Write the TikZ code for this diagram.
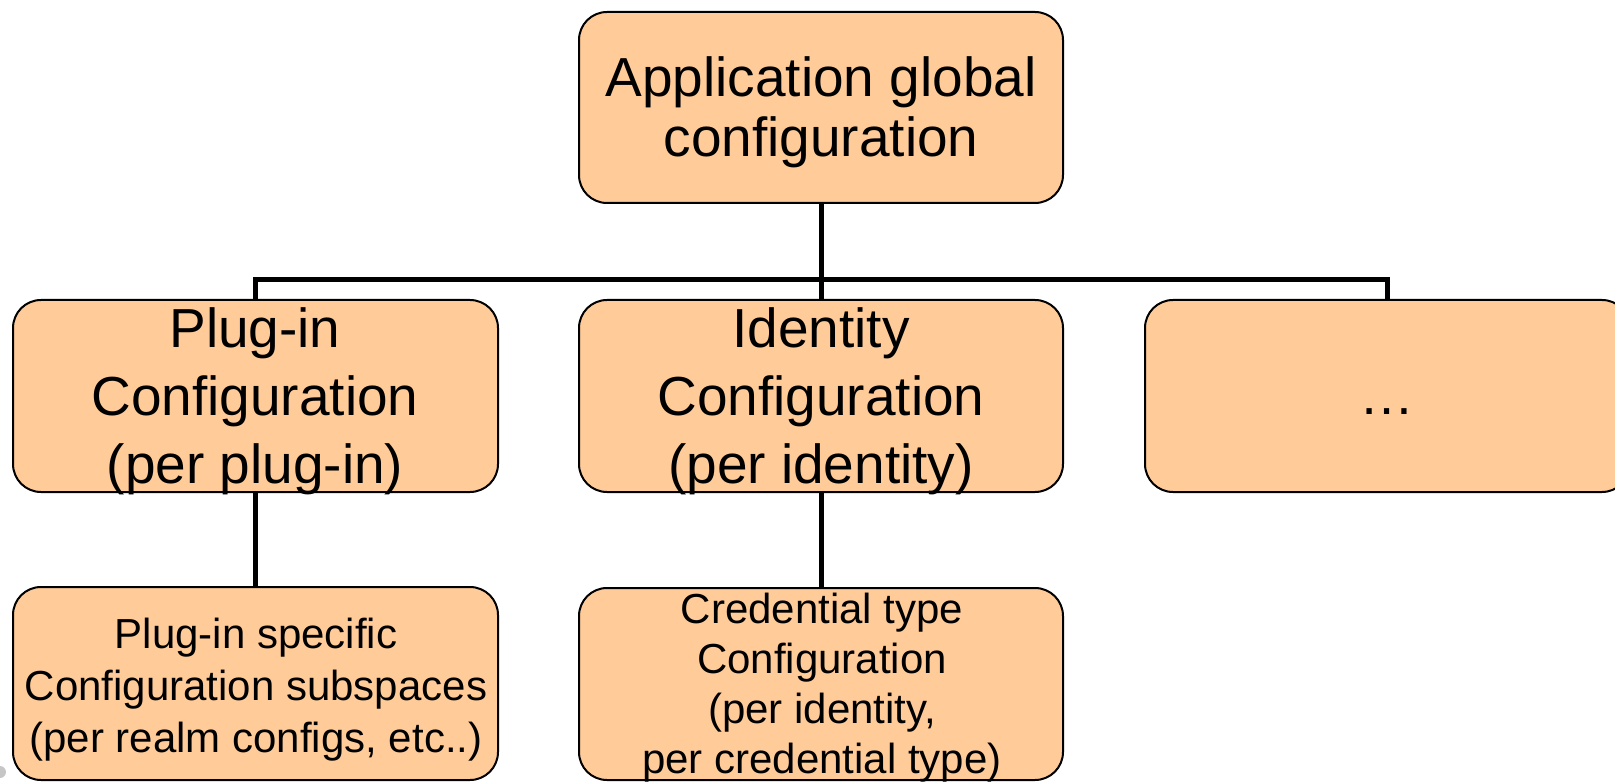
\documentclass[tikz,border=0pt]{standalone}
\usepackage{fontspec}
\setmainfont{Liberation Sans}
\pgfdeclarelayer{background}
\pgfsetlayers{background,main}
\definecolor{peach}{HTML}{FFCC99}
\tikzset{
  box/.style={draw=black, line width=2pt, fill=peach, rounded corners=28pt, inner sep=0pt, minimum width=485pt, minimum height=192pt},
  conn/.style={draw=black, line width=5pt},
  bigtxt/.style={anchor=base, align=center, inner sep=0pt, font=\fontsize{55}{68}\selectfont},
  toptxt/.style={anchor=base, align=center, inner sep=0pt, font=\fontsize{55}{60}\selectfont},
  smalltxt/.style={anchor=base, align=center, inner sep=0pt, font=\fontsize{42}{52}\selectfont},
  smalltxtb/.style={anchor=base, align=center, inner sep=0pt, font=\fontsize{42}{50}\selectfont}
}
\begin{document}
\begin{tikzpicture}[x=1pt,y=-1pt]
\useasboundingbox (0,0) rectangle (1615,783);
% boxes
\node[box, minimum width=484pt, minimum height=191pt] (top) at (821,107.5) {};
\node[box] (L) at (255.5,396) {};
\node[box, minimum width=484pt] (M) at (821,396) {};
\node[box] (R) at (1387.5,396) {};
\node[box, minimum height=193pt] (BL) at (255.5,683.5) {};
\node[box, minimum width=484pt] (BM) at (821,684) {};
% texts (anchor = baseline of last line)
\node[toptxt] (ttop) at (821,157) {Application global\\configuration};
\node[bigtxt] (tL) at (255,483) {Plug-in\\Configuration\\(per plug-in)};
\node[bigtxt] (tM) at (821,483) {Identity\\Configuration\\(per identity)};
\node[bigtxt] (tR) at (1387,415) {…};
\node[smalltxt] (tBL) at (256,752) {Plug-in specific\\Configuration subspaces\\(per realm configs, etc..)};
\node[smalltxtb] (tBM) at (822,773) {Credential type\\Configuration\\(per identity,\\per credential type)};
% connectors
\coordinate (bus) at (821,280);
\begin{pgfonlayer}{background}
\draw[conn] (top.south) -- (bus);
\draw[conn] (L.north) |- (bus);
\draw[conn] (bus) -| (R.north);
\draw[conn] (M.north) -- (bus);
\draw[conn] (L.south) -- (BL.north);
\draw[conn] (M.south) -- (BM.north);
\end{pgfonlayer}
% stray grey dot
\fill[gray!45] (0,772) circle (6pt);
\end{tikzpicture}
\end{document}
